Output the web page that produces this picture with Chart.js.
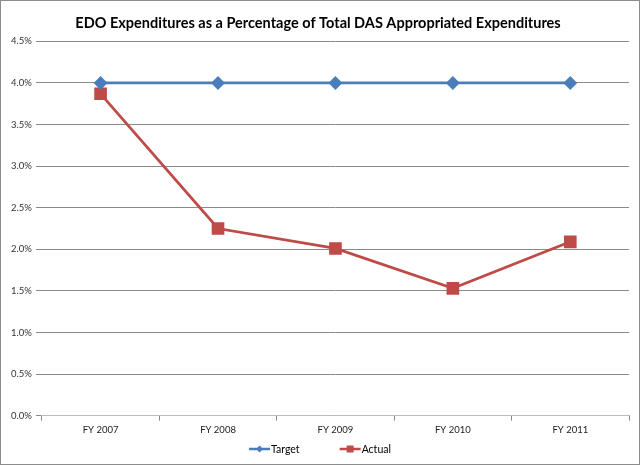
<!DOCTYPE html>
<html><head><meta charset="utf-8">
<script src="https://cdn.jsdelivr.net/npm/chart.js@4.4.0/dist/chart.umd.min.js"></script>
<style>
html,body{margin:0;padding:0;background:#fff;}
#wrap{position:absolute;left:0;top:0;width:638px;height:463px;border:1px solid #8c8c8c;}
canvas{display:block;}
</style></head>
<body><div id="wrap"><canvas id="c" width="638" height="463"></canvas></div>
<script>
const categories = ["FY 2007","FY 2008","FY 2009","FY 2010","FY 2011"];
const targetValues = [4.0, 4.0, 4.0, 4.0, 4.0];
const actualValues = [3.87, 2.25, 2.01, 1.53, 2.09];
const titleText = "EDO Expenditures as a Percentage of Total DAS Appropriated Expenditures";

const blue = '#4A7EBB', red = '#BE4B48';

const customLegend = {
  id:'customLegend',
  afterDraw(chart){
    const g = chart.ctx;
    const y = 448;
    g.save();
    g.font = '10.5px Lato, sans-serif';
    g.textBaseline = 'middle';
    g.fillStyle = '#000';
    const items = chart.data.datasets.map((d,i)=>({label:d.label, color:d.borderColor, shape:i===0?'diamond':'square'}));
    const iconW = 21, gap = 1, spacing = 40;
    const widths = items.map(it=>iconW+gap+g.measureText(it.label).width);
    const total = widths.reduce((a,b)=>a+b,0)+spacing*(items.length-1);
    let x = (chart.width - total)/2;
    items.forEach((it,i)=>{
      g.strokeStyle = it.color; g.fillStyle = it.color; g.lineWidth = 2.5;
      g.beginPath(); g.moveTo(x,y); g.lineTo(x+iconW,y); g.stroke();
      const cx = x+iconW/2;
      if(it.shape==='diamond'){
        g.beginPath(); g.moveTo(cx,y-3.5); g.lineTo(cx+3.5,y); g.lineTo(cx,y+3.5); g.lineTo(cx-3.5,y); g.closePath(); g.fill();
      } else {
        g.fillRect(cx-3.5,y-3.5,7,7);
      }
      g.fillStyle = '#000';
      g.fillText(it.label, x+iconW+gap, y+0.5);
      x += widths[i]+spacing;
    });
    g.restore();
  }
};

new Chart(document.getElementById('c'), {
  type: 'line',
  data: {
    labels: categories,
    datasets: [
      {label:'Target', data: targetValues, borderColor: blue, backgroundColor: blue, borderWidth: 2.75,
       pointStyle:'rectRot', pointRadius:5, pointHoverRadius:5, tension:0},
      {label:'Actual', data: actualValues, borderColor: red, backgroundColor: red, borderWidth: 2.75,
       pointStyle:'rect', pointRadius:7, pointHoverRadius:7, tension:0}
    ]
  },
  options: {
    responsive:false, animation:false,
    layout:{padding:{left:6,right:10,top:6,bottom:24}},
    plugins:{
      title:{display:true, text:titleText, color:'#000', font:{family:'Lato, "Open Sans", sans-serif', size:14.5, weight:'bold'}, padding:{top:8,bottom:9}},
      legend:{display:false},
      tooltip:{enabled:false}
    },
    scales:{
      x:{offset:true,
        grid:{display:true, offset:true, drawOnChartArea:false, drawTicks:true, tickLength:5, color:'#888'},
        border:{color:'#bbb'},
        ticks:{color:'#222', font:{family:'Lato, sans-serif', size:9.5}, padding:4}},
      y:{min:0, max:4.5,
        grid:{color:'#8a8a8a', tickLength:6, drawTicks:true},
        border:{display:false},
        ticks:{stepSize:0.5, color:'#333', font:{family:'Lato, sans-serif', size:9.5}, padding:4,
          callback:v=>v.toFixed(1)+'%'}}
    }
  },
  plugins:[customLegend]
});
</script></body></html>
